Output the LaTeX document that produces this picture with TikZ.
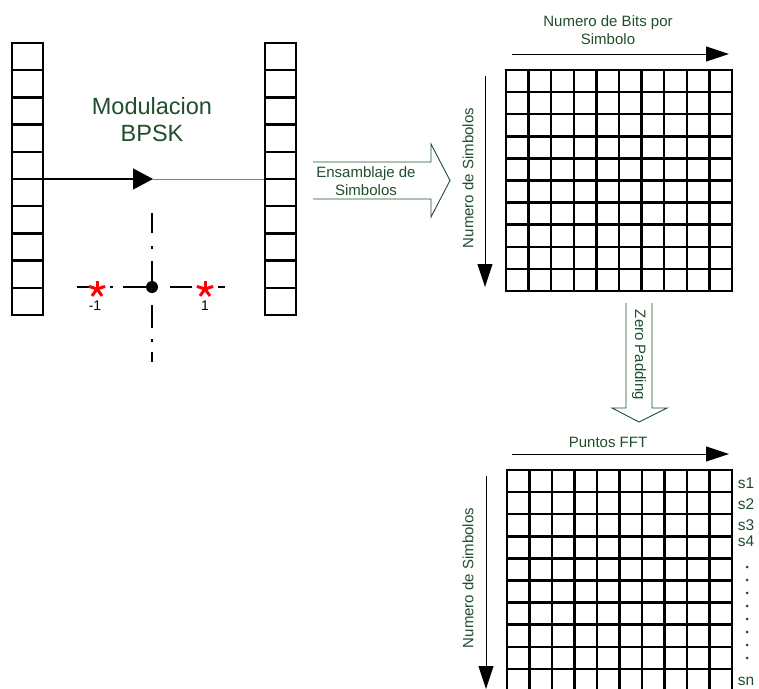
\documentclass[tikz,border=0pt]{standalone}
\usepackage{fontspec}
\setmainfont{Liberation Sans}
\usetikzlibrary{arrows.meta,positioning}
\definecolor{labelgreen}{RGB}{31,78,45}
\tikzset{
  cellline/.style={line width=2.5pt},
  green label/.style={text=labelgreen, font=\fontsize{15}{18}\selectfont, align=center, inner sep=0pt},
  slabel/.style={text=labelgreen, font=\fontsize{15.5}{16}\selectfont, inner sep=0pt},
  axis arrow/.style={line width=1pt, -{Triangle[length=23pt,width=15pt]}},
  block arrow/.style={draw=labelgreen, line width=0.9pt, line join=miter},
  const axis/.style={line width=2.2pt},
  bpsk star/.pic={
    \foreach \dx/\dy in {0/-8.5, 8.1/-2.6, -8.1/-2.6, 5/6.9, -5/6.9}
      \draw[red, line width=3pt] (0,0) -- (\dx,\dy);
  }
}
\begin{document}
\begin{tikzpicture}[x=1pt, y=-1pt]
    \useasboundingbox (0,0) rectangle (759,688);
    % Bit columns
    \node[draw, cellline, minimum width=31pt, minimum height=272pt, inner sep=0pt] (bitsin) at (27.5,179) {};
    \node[draw, cellline, minimum width=31pt, minimum height=272pt, inner sep=0pt] (bitsout) at (280.5,179) {};
    \foreach \cx in {12,265}
      \foreach \k in {1,...,9}
        \draw[cellline] (\cx,43+27.2*\k) -- (\cx+31,43+27.2*\k);
    % Modulation
    \node[text=labelgreen, font=\fontsize{23.5}{27}\selectfont, align=center, inner sep=0pt] (modlabel) at (152,120) {Modulacion\\BPSK};
    \coordinate (modtip) at (153,179);
    \draw[line width=1.3pt, -{Triangle[length=20pt,width=21pt]}] (bitsin.east) -- (modtip);
    \draw[gray, line width=0.8pt] (modtip) -- (bitsout.west);
    % Constellation
    \coordinate (org) at (152,287);
    \foreach \a/\b in {77/92, 110/112.5, 123/152, 170/192, 218/225}
      \draw[const axis] (\a,287) -- (\b,287);
    \foreach \a/\b in {213/233, 246/248.5, 261/287, 305/328, 339/341.5, 352/362}
      \draw[const axis] (152,\a) -- (152,\b);
    \fill (org) circle (6pt);
    \pic at (97,289) {bpsk star};
    \pic at (205,289) {bpsk star};
    \node[font=\fontsize{14}{16}\selectfont, inner sep=0pt] (minus) at (95,306) {-1};
    \node[font=\fontsize{14}{16}\selectfont, inner sep=0pt] (plus) at (205,306) {1};
    % Symbol assembly
    \node[green label] (ensam) at (366,181) {Ensamblaje de\\Simbolos};
    \draw[block arrow] (313,162) -- (431,162) -- (431,144) -- (450,180.5) -- (431,217) -- (431,199) -- (313,199);
    % Symbol matrix
    \node[draw, cellline, minimum width=226pt, minimum height=221pt, inner sep=0pt] (symgrid) at (619,180.5) {};
    \foreach \k in {1,...,9} {
      \draw[cellline] (506+22.6*\k,70) -- (506+22.6*\k,291);
      \draw[cellline] (506,70+22.1*\k) -- (732,70+22.1*\k);
    }
    \draw[axis arrow] (512,54) -- (729,54);
    \node[green label] (bitslabel) at (608,30) {Numero de Bits por\\Simbolo};
    \draw[axis arrow] (485,76) -- (485,287);
    \node[green label, rotate=90] (symlabel) at (468,178) {Numero de Simbolos};
    % Zero padding
    \node[green label, rotate=-90] (zeropad) at (639,355) {Zero Padding};
    \draw[block arrow] (626,303) -- (626,408) -- (612,408) -- (639,422) -- (667,408) -- (652,408) -- (652,303);
    % FFT matrix
    \node[draw, cellline, minimum width=225pt, minimum height=221pt, inner sep=0pt] (fftgrid) at (619.5,580.5) {};
    \foreach \k in {1,...,9} {
      \draw[cellline] (507+22.5*\k,470) -- (507+22.5*\k,691);
      \draw[cellline] (507,470+22.1*\k) -- (732,470+22.1*\k);
    }
    \draw[axis arrow] (512,454) -- (729,454);
    \node[green label] (fftlabel) at (608,442) {Puntos FFT};
    \draw[axis arrow] (486,476) -- (486,689);
    \node[green label, rotate=90] (symlabel2) at (468,578) {Numero de Simbolos};
    % Symbol labels
    \foreach \n/\y in {s1/483, s2/504, s3/525.5, s4/541.5, sn/681}
      \node[slabel] (\n) at (746,\y) {\n};
    \foreach \k in {0,...,7}
      \fill[labelgreen] (747,567+13*\k) circle (1.5pt);
\end{tikzpicture}
\end{document}
